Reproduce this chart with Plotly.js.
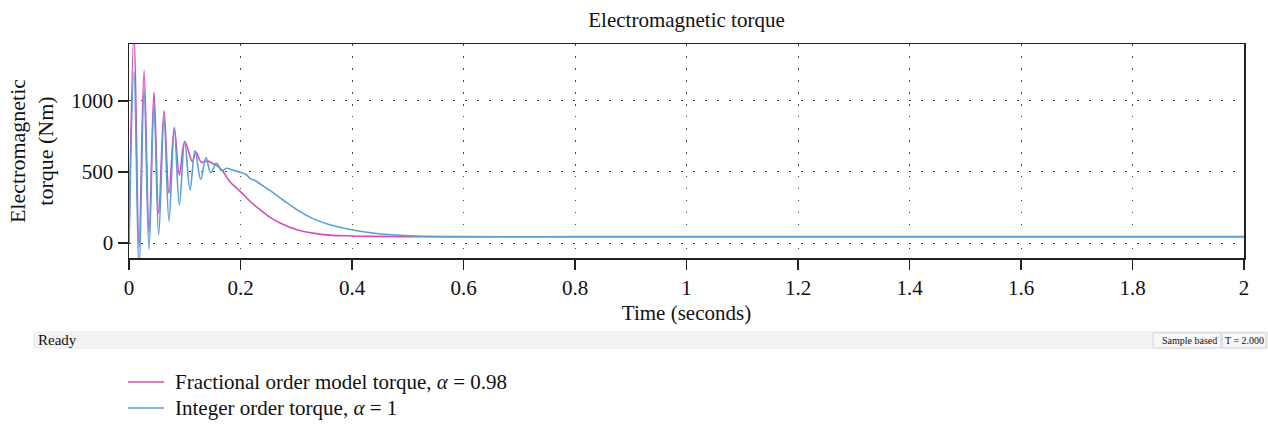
<!DOCTYPE html>
<html>
<head>
<meta charset="utf-8">
<script src="https://cdn.plot.ly/plotly-3.0.1.min.js"></script>
<style>html,body{margin:0;padding:0;background:#fff;}#chart{width:1268px;height:424px;}</style>
</head>
<body>
<div id="chart"></div>
<script>
// ---- data ----
const fracTime = [0, 0.009, 0.018, 0.027, 0.036, 0.0448, 0.0532, 0.0628, 0.0717, 0.0813, 0.0903, 0.100, 0.1136, 0.120, 0.130, 0.140, 0.150, 0.160, 0.169, 0.181, 0.199, 0.217, 0.235, 0.253, 0.271, 0.301, 0.330, 0.360, 0.399, 0.432, 0.5, 0.6, 0.8, 1.0, 1.5, 2.0];
const fracTorque = [0, 1480, -30, 1213, 73, 1061, 209, 930, 350, 812, 479, 714, 573, 640, 568, 578, 560, 540, 502, 431, 365, 294, 235, 181, 141, 94, 70, 56, 50, 47, 45, 44, 44, 44, 44, 44];

const intTime = [0, 0.009, 0.018, 0.027, 0.0359, 0.0448, 0.0532, 0.0628, 0.0717, 0.0813, 0.0903, 0.0999, 0.1094, 0.1184, 0.1286, 0.138, 0.1465, 0.157, 0.166, 0.175, 0.187, 0.199, 0.210, 0.217, 0.226, 0.241, 0.259, 0.277, 0.301, 0.330, 0.360, 0.390, 0.420, 0.452, 0.512, 0.6, 0.8, 1.0, 1.5, 2.0];
const intTorque = [0, 1206, -200, 1077, -45, 972, 56, 878, 155, 800, 268, 714, 373, 650, 448, 601, 495, 561, 509, 526, 512, 498, 482, 455, 440, 400, 353, 301, 235, 172, 129, 101, 80, 64, 50, 45, 45, 45, 45, 45];

const fracName = 'Fractional order model torque, <i>α</i> = 0.98';
const intName = 'Integer order torque, <i>α</i> = 1';
const xTickStep = 0.2;
const yTicks = [0, 500, 1000];

// ---- layout helpers (pixel -> paper) ----
const W = 1268, H = 424, L = 129, R = 24, T = 44, B = 166;
const PW = W - L - R, PH = H - T - B;
const px = p => (p - L) / PW;
const py = p => (H - B - p) / PH;

const FONT = 'Liberation Serif, Times New Roman, serif';
const FRAC_COLOR = '#d34db6';
const INT_COLOR = '#5a9fd8';

const traces = [
  {x: fracTime, y: fracTorque, name: fracName, type: 'scatter', mode: 'lines',
   line: {color: FRAC_COLOR, width: 1.6, shape: 'spline', smoothing: 1}},
  {x: intTime, y: intTorque, name: intName, type: 'scatter', mode: 'lines',
   line: {color: INT_COLOR, width: 1.6, shape: 'spline', smoothing: 1}}
];

const axisCommon = {
  showline: true, linecolor: '#222', linewidth: 1.5, mirror: true, automargin: false,
  ticks: 'outside', ticklen: 10, tickcolor: '#222', tickwidth: 1.3,
  showgrid: true, gridcolor: '#444', gridwidth: 1, griddash: '1.5px,10.5px',
  zeroline: false, tickfont: {family: FONT, size: 21, color: '#111'}
};

// manual legend (kept outside the auto-margin logic)
const legendItems = [
  {name: fracName, color: FRAC_COLOR, y: 382},
  {name: intName, color: INT_COLOR, y: 408}
];

const shapes = [
  {type: 'rect', xref: 'paper', yref: 'paper', x0: px(33), x1: px(1268), y0: py(349), y1: py(331),
   fillcolor: '#f2f2f2', line: {width: 0}, layer: 'below'},
  {type: 'rect', xref: 'paper', yref: 'paper', x0: px(1153), x1: px(1221), y0: py(348), y1: py(333),
   fillcolor: '#f7f7f7', line: {color: '#d4d4d4', width: 1}},
  {type: 'rect', xref: 'paper', yref: 'paper', x0: px(1222), x1: px(1266), y0: py(348), y1: py(333),
   fillcolor: '#f7f7f7', line: {color: '#d4d4d4', width: 1}}
];
const annotations = [
  {text: 'Ready', xref: 'paper', yref: 'paper', x: px(36), y: py(340), xanchor: 'left', yanchor: 'middle',
   showarrow: false, font: {family: FONT, size: 15, color: '#111'}},
  {text: 'Sample based', xref: 'paper', yref: 'paper', x: px(1219), y: py(340.5), xanchor: 'right', yanchor: 'middle',
   showarrow: false, font: {family: FONT, size: 10, color: '#111'}},
  {text: 'T = 2.000', xref: 'paper', yref: 'paper', x: px(1244), y: py(340.5), xanchor: 'center', yanchor: 'middle',
   showarrow: false, font: {family: FONT, size: 10, color: '#111'}}
];
legendItems.forEach(it => {
  shapes.push({type: 'line', xref: 'paper', yref: 'paper', x0: px(128), x1: px(164), y0: py(it.y), y1: py(it.y),
               line: {color: it.color, width: 1.6}});
  annotations.push({text: it.name, xref: 'paper', yref: 'paper', x: px(173), y: py(it.y), xanchor: 'left', yanchor: 'middle',
                    showarrow: false, font: {family: FONT, size: 21, color: '#111'}});
});

const layout = {
  width: W, height: H,
  margin: {l: L, r: R, t: T, b: B},
  paper_bgcolor: '#fff', plot_bgcolor: '#fff',
  font: {family: FONT, color: '#111'},
  title: {text: 'Electromagnetic torque', font: {family: FONT, size: 21, color: '#111'},
          x: px(686.5), xref: 'paper', xanchor: 'center', y: 1 - 20 / H, yref: 'container', yanchor: 'middle'},
  xaxis: Object.assign({}, axisCommon, {
    range: [0, 2], dtick: xTickStep, tick0: 0,
    title: {text: 'Time (seconds)', font: {family: FONT, size: 21, color: '#111'}, standoff: 6}
  }),
  yaxis: Object.assign({}, axisCommon, {
    range: [-105, 1400], tickvals: yTicks,
    title: {text: 'Electromagnetic<br>torque (Nm)', font: {family: FONT, size: 22, color: '#111'}, standoff: 11}
  }),
  showlegend: false,
  shapes: shapes,
  annotations: annotations
};

Plotly.newPlot('chart', traces, layout, {displayModeBar: false, staticPlot: true});
</script>
</body>
</html>
